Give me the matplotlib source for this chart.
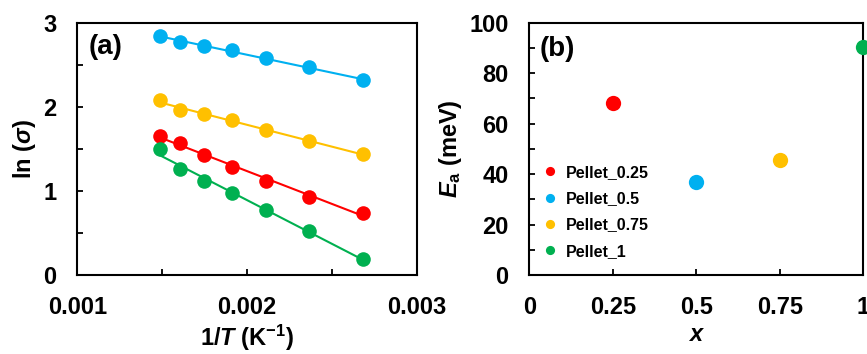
import numpy as np
import matplotlib
matplotlib.use("Agg")
import matplotlib.pyplot as plt
from matplotlib.ticker import MultipleLocator, FixedLocator

plt.rcParams["font.family"] = ["Liberation Sans", "DejaVu Sans"]
plt.rcParams["font.weight"] = "bold"
plt.rcParams["mathtext.fontset"] = "custom"
plt.rcParams["mathtext.rm"] = "Liberation Sans:bold"
plt.rcParams["mathtext.it"] = "Liberation Sans:bold:italic"
plt.rcParams["mathtext.bf"] = "Liberation Sans:bold"

# panel (a): ln(sigma) vs 1/T
inv_T = [0.001486, 0.001605, 0.001745, 0.001912, 0.002114, 0.002364, 0.002681]
ln_sigma_025 = [1.653, 1.566, 1.427, 1.284, 1.118, 0.931, 0.741]
ln_sigma_05 = [2.842, 2.767, 2.723, 2.671, 2.584, 2.469, 2.315]
ln_sigma_075 = [2.077, 1.966, 1.910, 1.839, 1.728, 1.589, 1.439]
ln_sigma_1 = [1.498, 1.256, 1.118, 0.971, 0.773, 0.519, 0.194]

# panel (b): activation energy vs x
x_vals = [0.25, 0.5, 0.75, 1.0]
ea_vals = [68.1, 37.0, 45.7, 90.5]
labels = ["Pellet_0.25", "Pellet_0.5", "Pellet_0.75", "Pellet_1"]
colors = ["#FF0000", "#00B0F0", "#FFC000", "#00B050"]

fig = plt.figure(figsize=(8.67, 3.54), dpi=100)
ax1 = fig.add_axes([0.0892, 0.2232, 0.3914, 0.7127])
ax2 = fig.add_axes([0.6105, 0.2232, 0.3852, 0.7127])

series = [ln_sigma_025, ln_sigma_05, ln_sigma_075, ln_sigma_1]
xs = np.array(inv_T)
for ys, c in zip(series, colors):
    # straight fit line through each series
    k, b = np.polyfit(xs, ys, 1)
    ax1.plot([xs[0], xs[-1]], [k * xs[0] + b, k * xs[-1] + b], color=c, lw=1.5, zorder=2)
    ax1.plot(xs, ys, "o", color=c, ms=10.5, mec="none", zorder=3)

ax1.set_xlim(0.001, 0.003)
ax1.set_ylim(0, 3)
ax1.xaxis.set_major_locator(FixedLocator([0.001, 0.002, 0.003]))
ax1.xaxis.set_minor_locator(FixedLocator([0.0015, 0.0025]))
ax1.yaxis.set_major_locator(MultipleLocator(1))
ax1.yaxis.set_minor_locator(MultipleLocator(0.5))
ax1.set_xticklabels(["0.001", "0.002", "0.003"])
ax1.set_xlabel(r"1/$\mathit{T}$ (K$^{-1}$)", fontsize=17, fontweight="bold", labelpad=3)
ax1.set_ylabel(r"ln ($\mathit{\sigma}$)", fontsize=17, fontweight="bold", labelpad=4)
ax1.text(0.032, 0.904, "(a)", transform=ax1.transAxes, fontsize=20, fontweight="bold", va="center")

for xv, ev, lab, c in zip(x_vals, ea_vals, labels, colors):
    ax2.plot(xv, ev, "o", color=c, ms=11, mec="none", label=lab, clip_on=False, zorder=3)

ax2.set_xlim(0, 1)
ax2.set_ylim(0, 100)
ax2.xaxis.set_major_locator(FixedLocator([0, 0.25, 0.5, 0.75, 1]))
ax2.set_xticklabels(["0", "0.25", "0.5", "0.75", "1"])
ax2.yaxis.set_major_locator(MultipleLocator(20))
ax2.yaxis.set_minor_locator(MultipleLocator(10))
ax2.set_xlabel(r"$\mathit{x}$", fontsize=17, fontweight="bold", labelpad=3)
ax2.set_ylabel(r"$\mathit{E}_\mathrm{a}$ (meV)", fontsize=17, fontweight="bold", labelpad=4)
ax2.text(0.032, 0.895, "(b)", transform=ax2.transAxes, fontsize=20, fontweight="bold", va="center")
ax2.legend(loc="lower left", bbox_to_anchor=(-0.01, 0.008), frameon=False, markerscale=0.6,
           handlelength=1.2, handletextpad=0.4, labelspacing=0.7,
           prop={"size": 11.5, "weight": "bold"})

for ax in (ax1, ax2):
    for s in ax.spines.values():
        s.set_linewidth(1.5)
    ax.tick_params(which="both", direction="in", width=1.3, length=4, labelsize=17, pad=15)
    for t in ax.get_xticklabels() + ax.get_yticklabels():
        t.set_fontweight("bold")

fig.savefig("out.png", dpi=100)
